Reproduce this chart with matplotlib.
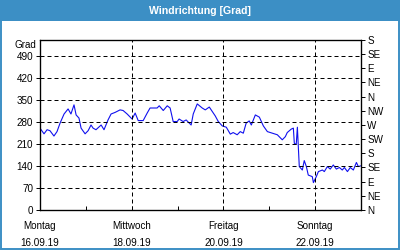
import matplotlib
matplotlib.use("Agg")
import matplotlib.pyplot as plt
from matplotlib.patches import Rectangle

plt.rcParams["font.family"] = ["Liberation Sans", "DejaVu Sans"]

TITLE = "Windrichtung [Grad]"
BAR_BLUE = "#3c8fc5"

# hours since Monday 16.09.19 00:00, wind direction in degrees
HOURS = [
    0, 2.1, 3.7, 5.2, 7.3, 8.9, 10.5, 12.6, 14.7, 16.2, 17.8, 18.9, 20.4, 21.5,
    23.6, 25.2, 26.7, 27.8, 29.3, 32.0, 33.5, 35.6, 37.2, 39.3, 41.9, 43.5,
    45.6, 48.2, 49.8, 51.4, 54.0, 56.1, 57.6, 61.3, 62.4, 64.5, 66.6, 68.1,
    69.7, 71.8, 72.8, 74.9, 76.5, 79.1, 80.2, 82.3, 84.9, 86.5, 88.6, 91.7,
    93.3, 95.4, 97.5, 99.6, 101.1, 103.2, 104.8, 106.4, 107.9, 109.5, 110.6,
    112.7, 114.8, 116.9, 119.0, 121.6, 124.2, 126.8, 128.4, 129.4, 131.5,
    132.6, 133.1, 134.1, 134.7, 135.7, 137.3, 138.3, 139.4, 140.4, 142.5,
    143.1, 144.6, 145.7, 147.8, 148.8, 150.4, 151.9, 153.5, 155.1, 156.7,
    158.2, 159.3, 160.9, 162.4, 164.0, 165.6, 166.6, 167.7,
]
DEGREES = [
    260, 242, 255, 252, 235, 249, 276, 305, 321, 305, 334, 302, 292, 260,
    242, 252, 270, 260, 255, 270, 255, 286, 305, 310, 318, 316,
    305, 289, 308, 284, 284, 308, 324, 324, 331, 316, 331, 324,
    281, 281, 289, 281, 286, 270, 305, 337, 324, 318, 327, 299,
    281, 267, 263, 241, 246, 239, 249, 244, 276, 283, 270,
    302, 295, 267, 249, 244, 239, 223, 233, 246, 257,
    260, 212, 208, 263, 138, 127, 157, 138, 111, 106,
    87, 106, 122, 127, 122, 138, 130, 143, 130, 135,
    127, 135, 122, 135, 127, 151, 138, 140,
]

DAY_TICKS = [0, 2, 4, 6]
DAY_LABELS = ["Montag\n16.09.19", "Mittwoch\n18.09.19", "Freitag\n20.09.19", "Sonntag\n22.09.19"]
MINOR_DAYS = [1, 3, 5]
LEFT_TICKS = [0, 70, 140, 210, 280, 350, 420, 490]
RIGHT_TICKS = list(range(0, 541, 45))
RIGHT_LABELS = ["N", "NE", "E", "SE", "S", "SW", "W", "NW", "N", "NE", "E", "SE", "S"]

FS = 7.1

fig = plt.figure(figsize=(4, 2.5), dpi=100, facecolor="white")
ax = fig.add_axes([40 / 400, 40 / 250, 321 / 400, 170 / 250])

days = [h / 24 for h in HOURS]
ax.plot(days, DEGREES, color="#1010ee", linewidth=0.8)

ax.set_xlim(0, 7)
ax.set_ylim(0, 540)

ax.set_yticks(LEFT_TICKS)
ax.set_yticklabels([str(t) for t in LEFT_TICKS], fontsize=FS)
ax.set_xticks(DAY_TICKS)
ax.set_xticklabels(DAY_LABELS, fontsize=FS, linespacing=1.8)
ax.set_xticks(MINOR_DAYS, minor=True)
ax.tick_params(axis="x", which="both", direction="in", length=3, width=0.7, pad=8)
ax.tick_params(axis="y", direction="out", length=3, width=0.7, pad=2)

for t in LEFT_TICKS[1:]:
    ax.axhline(t, color="black", linewidth=0.72, linestyle=(0, (4, 3)))
for d in DAY_TICKS[1:]:
    ax.axvline(d, color="black", linewidth=0.72, linestyle=(0, (4, 3)))

for s in ax.spines.values():
    s.set_linewidth(0.9)

ax2 = ax.twinx()
ax2.set_ylim(0, 540)
ax2.set_yticks(RIGHT_TICKS)
ax2.set_yticklabels(RIGHT_LABELS, fontsize=FS)
ax2.tick_params(axis="y", direction="out", length=3, width=0.7, pad=1.5)

ax.text(-0.012, 1.0, "Grad", transform=ax.transAxes, ha="right", va="top", fontsize=FS)

# title bar and window frame
fig.patches.append(Rectangle((0, 1 - 21 / 250), 1, 21 / 250, transform=fig.transFigure,
                             facecolor=BAR_BLUE, edgecolor="none", zorder=0))
fig.patches.append(Rectangle((0.002, 0.003), 0.996, 0.994, transform=fig.transFigure,
                             facecolor="none", edgecolor=BAR_BLUE, linewidth=1.4, zorder=5))
fig.text(0.5, 1 - 10.5 / 250, TITLE, ha="center", va="center", color="white",
         fontsize=7.6, fontweight="bold")

fig.savefig("out.png", dpi=100)
